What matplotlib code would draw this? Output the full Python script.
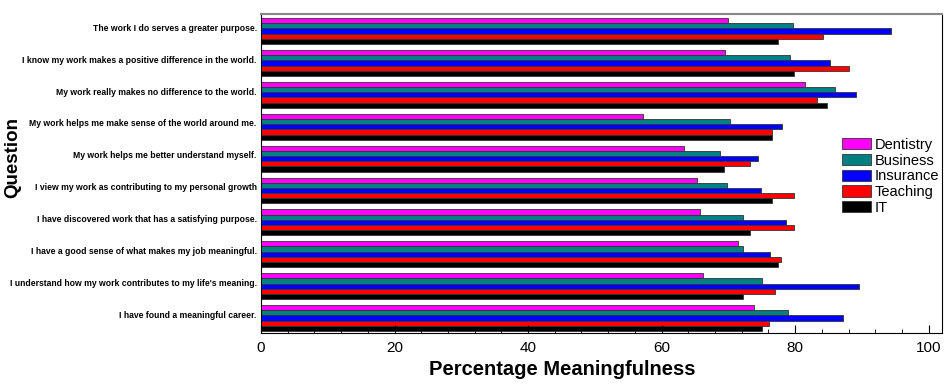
import numpy as np
import matplotlib
matplotlib.use("Agg")
import matplotlib.pyplot as plt
from matplotlib.ticker import MultipleLocator

plt.rcParams['font.family'] = ['Liberation Sans', 'DejaVu Sans']

questions = [
    "The work I do serves a greater purpose.",
    "I know my work makes a positive difference in the world.",
    "My work really makes no difference to the world.",
    "My work helps me make sense of the world around me.",
    "My work helps me better understand myself.",
    "I view my work as contributing to my personal growth",
    "I have discovered work that has a satisfying purpose.",
    "I have a good sense of what makes my job meaningful.",
    "I understand how my work contributes to my life's meaning.",
    "I have found a meaningful career.",
]

dentistry = [70.0, 69.5, 81.5, 57.2, 63.3, 65.3, 65.7, 71.4, 66.2, 73.9]
business  = [79.7, 79.3, 86.0, 70.2, 68.8, 69.8, 72.2, 72.2, 75.0, 78.9]
insurance = [94.4, 85.2, 89.1, 78.1, 74.4, 74.9, 78.6, 76.3, 89.6, 87.2]
teaching  = [84.2, 88.0, 83.3, 76.5, 73.2, 79.8, 79.8, 77.9, 77.0, 76.1]
it        = [77.5, 79.9, 84.7, 76.5, 69.4, 76.5, 73.2, 77.5, 72.2, 75.1]

series = ["Dentistry", "Business", "Insurance", "Teaching", "IT"]
values = [dentistry, business, insurance, teaching, it]
colors = ["#ff00ff", "#008080", "#0000ff", "#ff0000", "#000000"]

fig = plt.figure(figsize=(9.5, 3.85), dpi=100)
ax = fig.add_axes([0.2747, 0.135, 0.7169, 0.8286])

pos = np.arange(len(questions))
h = 0.163
for i, (name, vals, c) in enumerate(zip(series, values, colors)):
    ax.barh(pos + (i - 2) * h, vals, height=h, color=c, edgecolor="#333333",
            linewidth=0.6, label=name)

ax.set_xlim(0, 102)
ax.set_ylim(9.47, -0.535)
ax.xaxis.set_major_locator(MultipleLocator(20))
ax.xaxis.set_minor_locator(MultipleLocator(4))
ax.tick_params(axis="x", which="major", direction="in", length=6, labelsize=11, pad=6)
ax.tick_params(axis="x", which="minor", direction="in", length=3)
ax.set_yticks(pos - 0.12)
ax.set_yticklabels(questions, fontsize=6.2, fontweight="bold")
ax.tick_params(axis="y", length=0, pad=3)

ax.spines["top"].set_color("#888888")
ax.spines["top"].set_linewidth(1.5)

ax.set_xlabel("Percentage Meaningfulness", fontsize=14.5, fontweight="bold")
ax.xaxis.set_label_coords(0.442, -0.085)
ax.set_ylabel("Question", fontsize=13.5, fontweight="bold")
ax.yaxis.set_label_coords(-0.352, 0.55)

leg = ax.legend(loc="upper left", bbox_to_anchor=(0.845, 0.63), frameon=False,
                handlelength=2.0, handleheight=0.8, labelspacing=0.12,
                handletextpad=0.25, borderaxespad=0,
                prop={"size": 10.5})

fig.savefig("out.png", dpi=100)
